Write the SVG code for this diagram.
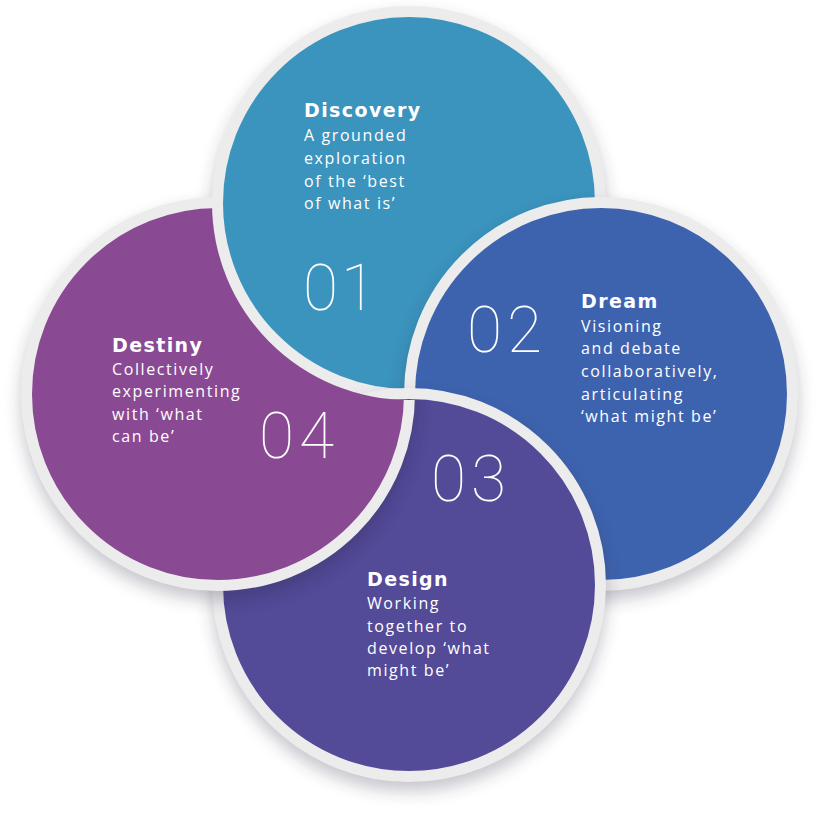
<svg xmlns="http://www.w3.org/2000/svg" width="816" height="827" viewBox="0 0 816 827">
<defs>
<style>
.ring{stroke:#ececec;stroke-width:11}
.sh{fill:#20203a;opacity:0.28;filter:url(#blur)}
.t{fill:#fff}
.h{font-family:"DejaVu Sans","Open Sans",sans-serif;font-size:19px;font-weight:700;letter-spacing:1.4px}
.b{font-family:"Open Sans","Liberation Sans",sans-serif;font-size:16px;font-weight:400;letter-spacing:1.6px}
.n{font-family:Roboto,"Open Sans",sans-serif;font-weight:100;font-size:64px;fill:#fff;letter-spacing:5px}
</style>
<filter id="blur" x="-20%" y="-20%" width="140%" height="140%"><feGaussianBlur stdDeviation="9"/></filter>
<mask id="m4" maskUnits="userSpaceOnUse" x="0" y="0" width="816" height="827">
<rect width="816" height="827" fill="#fff"/>
<circle cx="409" cy="203" r="197" fill="#000"/>
</mask>
</defs>
<rect width="816" height="827" fill="#fff"/>
<g id="connectors"></g>

<g id="discovery">
<circle class="sh" cx="409" cy="212" r="196"/>
<circle class="ring" cx="409" cy="203" r="191.5" fill="#3b94be"/>
<text class="t h" x="304" y="117">Discovery</text>
<text class="t b" x="304" y="141">A grounded</text>
<text class="t b" x="304" y="164">exploration</text>
<text class="t b" x="304" y="187">of the ‘best</text>
<text class="t b" x="304" y="209">of what is’</text>
<text class="n" x="303" y="310" style="letter-spacing:3px">01</text>
</g>

<g id="dream">
<circle class="sh" cx="601" cy="403" r="196"/>
<circle class="ring" cx="601" cy="394" r="191.5" fill="#3e63ae"/>
<text class="t h" x="581" y="308">Dream</text>
<text class="t b" x="581" y="332">Visioning</text>
<text class="t b" x="581" y="354">and debate</text>
<text class="t b" x="581" y="377">collaboratively,</text>
<text class="t b" x="581" y="400">articulating</text>
<text class="t b" x="581" y="422">‘what might be’</text>
<text class="n" x="467" y="352">02</text>
</g>

<g id="design">
<circle class="sh" cx="409" cy="594" r="196"/>
<circle class="ring" cx="409" cy="585" r="191.5" fill="#534a98"/>
<text class="t h" x="367" y="586">Design</text>
<text class="t b" x="367" y="609">Working</text>
<text class="t b" x="367" y="632">together to</text>
<text class="t b" x="367" y="654">develop ‘what</text>
<text class="t b" x="367" y="676">might be’</text>
<text class="n" x="431" y="501">03</text>
</g>

<g id="destiny">
<g mask="url(#m4)">
<circle class="sh" cx="218" cy="403" r="196"/>
<circle class="ring" cx="218" cy="394" r="191.5" fill="#8a4993"/>
</g>
<text class="t h" x="112" y="352">Destiny</text>
<text class="t b" x="112" y="375">Collectively</text>
<text class="t b" x="112" y="397">experimenting</text>
<text class="t b" x="112" y="420">with ‘what</text>
<text class="t b" x="112" y="442">can be’</text>
<text class="n" x="259" y="458">04</text>
</g>
</svg>
